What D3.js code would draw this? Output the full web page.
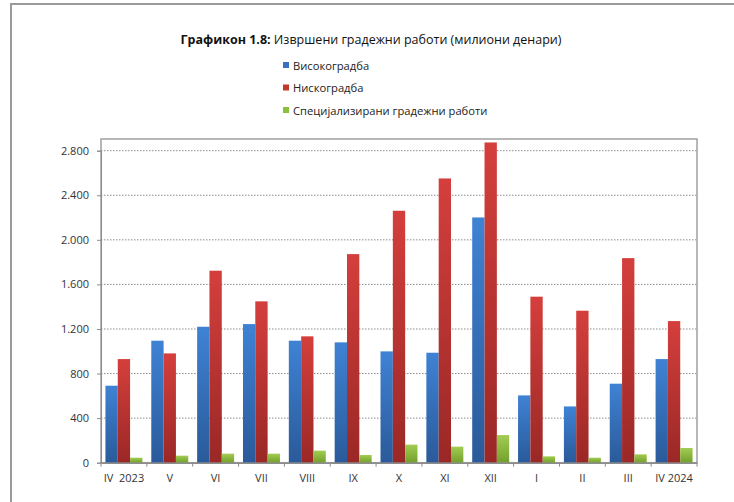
<!DOCTYPE html>
<html><head><meta charset="utf-8">
<script src="https://cdn.jsdelivr.net/npm/d3@7"></script>
<style>
body{margin:0;background:#fff;}
svg{display:block;font-family:"Open Sans",sans-serif;}
</style></head>
<body><svg id="c" width="734" height="502"></svg>
<script>
const categories = ["IV  2023","V","VI","VII","VIII","IX","X","XI","XII","I","II","III","IV 2024"];
const seriesNames = ["Високоградба","Нискоградба","Специјализирани градежни работи"];
const visokogradba = [691,1095,1220,1244,1095,1080,999,987,2201,604,505,709,930];
const niskogradba  = [930,981,1723,1448,1134,1872,2261,2551,2874,1490,1364,1836,1271];
const specijalizirani = [45,63,81,81,108,69,162,144,248,57,45,75,132];
const yTicks = [0,400,800,1200,1600,2000,2400,2800];

const series = [visokogradba, niskogradba, specijalizirani];
const colors = [
  {top:"#3f82d4", bot:"#2a5a9a", sw:"#3a70bf"},
  {top:"#d43f3c", bot:"#9a2826", sw:"#c0392b"},
  {top:"#a2cc52", bot:"#73a02c", sw:"#8cbf3f"}
];

const svg = d3.select("#c");
const defs = svg.append("defs");
colors.forEach((c,i)=>{
  const g = defs.append("linearGradient").attr("id","g"+i).attr("x1",0).attr("y1",0).attr("x2",0).attr("y2",1);
  g.append("stop").attr("offset","0%").attr("stop-color",c.top);
  g.append("stop").attr("offset","100%").attr("stop-color",c.bot);
});

// outer frame
svg.append("path").attr("d","M11,502 V4 H734").attr("fill","none").attr("stroke","#9a9a9a").attr("stroke-width",2);

// title
const t = svg.append("text").attr("x",371).attr("y",44).attr("text-anchor","middle").attr("font-size",12.5).attr("fill","#111");
t.append("tspan").attr("font-weight","bold").text("Графикон 1.8:");
t.append("tspan").text(" Извршени градежни работи (милиони денари)");

// legend
const leg = svg.append("g");
seriesNames.forEach((n,i)=>{
  const yy = 66 + i*22.5;
  leg.append("rect").attr("x",283).attr("y",yy-4).attr("width",6).attr("height",6).attr("fill",colors[i].sw);
  leg.append("text").attr("x",293).attr("y",yy+3.5).attr("font-size",11.2).attr("fill","#222").text(n);
});

const pL=101, pR=697, pT=139, pB=462.7;
const x = d3.scaleBand().domain(categories).range([pL,pR]).paddingInner(0).paddingOuter(0);
const inner = d3.scaleBand().domain([0,1,2]).range([0,x.bandwidth()]).paddingOuter(0.36).paddingInner(0);
const y = d3.scaleLinear().domain([0,2800]).range([pB,150.7]);

// gridlines
svg.append("g").selectAll("line").data(yTicks.filter(d=>d>0)).join("line")
  .attr("x1",pL).attr("x2",pR).attr("y1",d=>y(d)).attr("y2",d=>y(d))
  .attr("stroke","#8c8c8c").attr("stroke-width",1).attr("stroke-dasharray","1.5,1.5");

// plot border
svg.append("rect").attr("x",pL).attr("y",pT).attr("width",pR-pL).attr("height",pB-pT)
  .attr("fill","none").attr("stroke","#a0a0a0").attr("stroke-width",1.5);

// bars
series.forEach((vals,si)=>{
  svg.append("g").selectAll("rect").data(vals).join("rect")
    .attr("x",(d,i)=>x(categories[i])+inner(si))
    .attr("width",inner.bandwidth())
    .attr("y",d=>y(d)).attr("height",d=>pB-y(d))
    .attr("fill","url(#g"+si+")");
});

// y axis
const ya = svg.append("g").attr("transform",`translate(${pL},0)`)
  .call(d3.axisLeft(y).tickValues(yTicks).tickSize(4).tickPadding(8)
    .tickFormat(d=>d3.format(",")(d).replace(/,/g,".")));
ya.select(".domain").attr("stroke","#8c8c8c");
ya.selectAll(".tick line").attr("stroke","#8c8c8c");
ya.selectAll("text").attr("font-size",11).attr("fill","#333").attr("font-family","Open Sans");

// x axis
const xa = svg.append("g").attr("transform",`translate(0,${pB})`)
  .call(d3.axisBottom(x).tickSize(0).tickPadding(12));
xa.select(".domain").attr("stroke","#8c8c8c").attr("stroke-width",1.5);
xa.selectAll("text").attr("font-size",11).attr("fill","#333").attr("font-family","Open Sans").style("white-space","pre");
// boundary ticks
svg.append("g").selectAll("line").data(d3.range(categories.length+1)).join("line")
  .attr("x1",i=>pL+i*x.bandwidth()).attr("x2",i=>pL+i*x.bandwidth())
  .attr("y1",pB).attr("y2",pB+4).attr("stroke","#8c8c8c");
</script></body></html>
